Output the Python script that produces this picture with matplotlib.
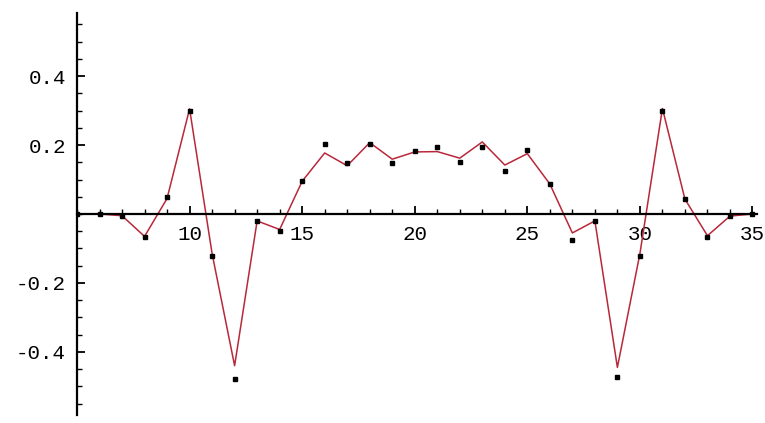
import numpy as np
import matplotlib.pyplot as plt
from matplotlib.ticker import MultipleLocator, FixedLocator

# sample positions and values
x = np.arange(5, 36)
point_y = [0.0, 0.0, -0.005, -0.068, 0.048, 0.300, -0.122, -0.479, -0.020, -0.048,
           0.095, 0.202, 0.147, 0.203, 0.149, 0.184, 0.193, 0.150, 0.195, 0.126,
           0.186, 0.087, -0.075, -0.020, -0.472, -0.121, 0.300, 0.043, -0.066, -0.006,
           0.0]
line_y = [0.0, 0.0, -0.005, -0.065, 0.045, 0.305, -0.115, -0.440, -0.020, -0.045,
          0.095, 0.177, 0.140, 0.207, 0.159, 0.180, 0.181, 0.162, 0.209, 0.142,
          0.175, 0.087, -0.055, -0.020, -0.445, -0.115, 0.306, 0.043, -0.063, -0.006,
          0.0]
xticks = [10, 15, 20, 25, 30, 35]
yticks = [-0.4, -0.2, 0.2, 0.4]
ylabels = ["-0.4", "-0.2", "0.2", "0.4"]

fig = plt.figure(figsize=(7.65, 4.23), dpi=100)
ax = fig.add_axes([77/765, 8/423, (757-77)/765, (415-13)/423])

ax.plot(x, line_y, color='#b8283a', lw=1.1, zorder=2)
ax.plot(x, point_y, 's', color='black', ms=2.8, zorder=3)

ax.set_xlim(5, 35.2)
ax.set_ylim(-0.583, 0.583)

for s in ['top', 'right']:
    ax.spines[s].set_visible(False)
ax.spines['bottom'].set_position(('data', 0))
ax.spines['left'].set_position(('data', 5))
ax.spines['bottom'].set_linewidth(1.6)
ax.spines['left'].set_linewidth(1.6)

ax.xaxis.set_major_locator(FixedLocator(xticks))
ax.xaxis.set_minor_locator(MultipleLocator(1))
ax.yaxis.set_major_locator(FixedLocator(yticks))
ax.set_yticklabels(ylabels)
ax.yaxis.set_minor_locator(MultipleLocator(0.05))

ax.tick_params(axis='both', which='major', direction='in', length=6, width=1.3,
               labelsize=15, pad=8)
ax.tick_params(axis='both', which='minor', direction='in', length=3.5, width=1)
for lab in ax.get_xticklabels() + ax.get_yticklabels():
    lab.set_family('Liberation Mono')

fig.savefig("out.png", dpi=100)
